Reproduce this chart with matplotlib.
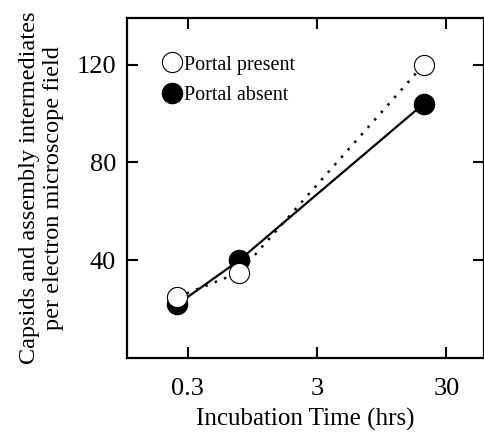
import matplotlib
matplotlib.use("Agg")
import matplotlib.pyplot as plt
from matplotlib.lines import Line2D

# data
hours = [0.25, 0.75, 20]
portal_present = [25, 35, 120]
portal_absent = [22, 40, 104]

x_ticks = [0.3, 3, 30]
x_tick_labels = ["0.3", "3", "30"]
y_ticks = [40, 80, 120]

plt.rcParams['font.family'] = ['Liberation Serif', 'DejaVu Serif']

fig = plt.figure(figsize=(4.85, 4.32), dpi=100)
ax = fig.add_axes([0.262, 0.171, 0.735, 0.787])

ax.plot(hours, portal_absent, color='black', linestyle='-', linewidth=1.6,
        marker='o', markersize=14.5, markerfacecolor='black',
        markeredgecolor='black', zorder=2)
ax.plot(hours, portal_present, color='black', linestyle=(0, (1, 3)), linewidth=1.8,
        marker='o', markersize=14.5, markerfacecolor='white',
        markeredgecolor='black', markeredgewidth=0.8, zorder=3)

ax.set_xscale('log')
ax.set_xlim(0.102, 58)
ax.set_ylim(0, 139)
ax.set_xticks(x_ticks)
ax.set_xticklabels(x_tick_labels)
ax.minorticks_off()
ax.set_yticks(y_ticks)

ax.tick_params(direction='in', length=8, width=1.5, top=True, right=True,
               labelsize=19)
ax.tick_params(axis='x', pad=14)
ax.tick_params(axis='y', pad=8)
for s in ax.spines.values():
    s.set_linewidth(1.6)

ax.set_xlabel("Incubation Time (hrs)", fontsize=18, labelpad=6)
ax.set_ylabel("Capsids and assembly intermediates\nper electron microscope field",
              fontsize=17.5, labelpad=9, linespacing=1.15)

handles = [
    Line2D([], [], linestyle='none', marker='o', markersize=14.5,
           markerfacecolor='white', markeredgecolor='black', markeredgewidth=0.8),
    Line2D([], [], linestyle='none', marker='o', markersize=14.5,
           markerfacecolor='black', markeredgecolor='black'),
]
ax.legend(handles, ["Portal present", "Portal absent"], loc='upper left',
          bbox_to_anchor=(0.075, 0.92), frameon=False, fontsize=14.5,
          handlelength=0.8, handletextpad=0.2, labelspacing=0.55, borderpad=0)

fig.savefig("out.png", dpi=100)
